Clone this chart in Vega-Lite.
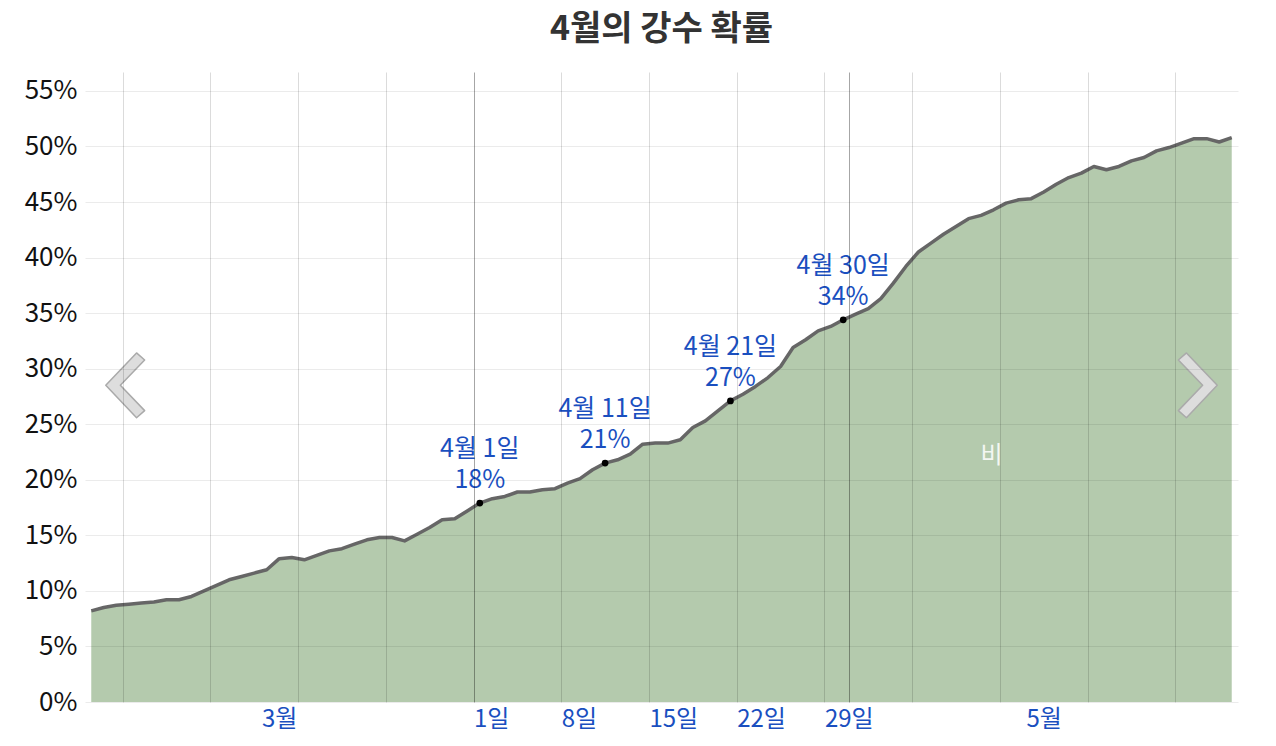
{
  "$schema": "https://vega.github.io/schema/vega-lite/v6.json",
  "autosize": "none",
  "width": 1153,
  "height": 630,
  "padding": {"left": 85, "top": 72, "right": 38, "bottom": 44},
  "background": "white",
  "title": {
    "text": "4월의 강수 확률",
    "font": "Noto Sans CJK KR",
    "fontSize": 34,
    "fontWeight": "bold",
    "color": "#333333",
    "anchor": "middle",
    "frame": "group",
    "baseline": "alphabetic",
    "offset": -2
  },
  "config": {
    "view": {"stroke": null},
    "font": "Noto Sans CJK KR"
  },
  "datasets": {
    "rain": [
      {"date": "2024-03-01T12:00Z", "p": 8.2},
      {"date": "2024-03-02T12:00Z", "p": 8.5},
      {"date": "2024-03-03T12:00Z", "p": 8.7},
      {"date": "2024-03-04T12:00Z", "p": 8.8},
      {"date": "2024-03-05T12:00Z", "p": 8.9},
      {"date": "2024-03-06T12:00Z", "p": 9.0},
      {"date": "2024-03-07T12:00Z", "p": 9.2},
      {"date": "2024-03-08T12:00Z", "p": 9.2},
      {"date": "2024-03-09T12:00Z", "p": 9.5},
      {"date": "2024-03-10T12:00Z", "p": 10.0},
      {"date": "2024-03-11T12:00Z", "p": 10.5},
      {"date": "2024-03-12T12:00Z", "p": 11.0},
      {"date": "2024-03-13T12:00Z", "p": 11.3},
      {"date": "2024-03-14T12:00Z", "p": 11.6},
      {"date": "2024-03-15T12:00Z", "p": 11.9},
      {"date": "2024-03-16T12:00Z", "p": 12.9},
      {"date": "2024-03-17T12:00Z", "p": 13.0},
      {"date": "2024-03-18T12:00Z", "p": 12.8},
      {"date": "2024-03-19T12:00Z", "p": 13.2},
      {"date": "2024-03-20T12:00Z", "p": 13.6},
      {"date": "2024-03-21T12:00Z", "p": 13.8},
      {"date": "2024-03-22T12:00Z", "p": 14.2},
      {"date": "2024-03-23T12:00Z", "p": 14.6},
      {"date": "2024-03-24T12:00Z", "p": 14.8},
      {"date": "2024-03-25T12:00Z", "p": 14.8},
      {"date": "2024-03-26T12:00Z", "p": 14.5},
      {"date": "2024-03-27T12:00Z", "p": 15.1},
      {"date": "2024-03-28T12:00Z", "p": 15.7},
      {"date": "2024-03-29T12:00Z", "p": 16.4},
      {"date": "2024-03-30T12:00Z", "p": 16.5},
      {"date": "2024-03-31T12:00Z", "p": 17.2},
      {"date": "2024-04-01T12:00Z", "p": 17.9},
      {"date": "2024-04-02T12:00Z", "p": 18.3},
      {"date": "2024-04-03T12:00Z", "p": 18.5},
      {"date": "2024-04-04T12:00Z", "p": 18.9},
      {"date": "2024-04-05T12:00Z", "p": 18.9},
      {"date": "2024-04-06T12:00Z", "p": 19.1},
      {"date": "2024-04-07T12:00Z", "p": 19.2},
      {"date": "2024-04-08T12:00Z", "p": 19.7},
      {"date": "2024-04-09T12:00Z", "p": 20.1},
      {"date": "2024-04-10T12:00Z", "p": 20.9},
      {"date": "2024-04-11T12:00Z", "p": 21.5},
      {"date": "2024-04-12T12:00Z", "p": 21.8},
      {"date": "2024-04-13T12:00Z", "p": 22.3},
      {"date": "2024-04-14T12:00Z", "p": 23.2},
      {"date": "2024-04-15T12:00Z", "p": 23.3},
      {"date": "2024-04-16T12:00Z", "p": 23.3},
      {"date": "2024-04-17T12:00Z", "p": 23.6},
      {"date": "2024-04-18T12:00Z", "p": 24.7},
      {"date": "2024-04-19T12:00Z", "p": 25.3},
      {"date": "2024-04-20T12:00Z", "p": 26.2},
      {"date": "2024-04-21T12:00Z", "p": 27.1},
      {"date": "2024-04-22T12:00Z", "p": 27.7},
      {"date": "2024-04-23T12:00Z", "p": 28.4},
      {"date": "2024-04-24T12:00Z", "p": 29.2},
      {"date": "2024-04-25T12:00Z", "p": 30.2},
      {"date": "2024-04-26T12:00Z", "p": 31.9},
      {"date": "2024-04-27T12:00Z", "p": 32.6},
      {"date": "2024-04-28T12:00Z", "p": 33.4},
      {"date": "2024-04-29T12:00Z", "p": 33.8},
      {"date": "2024-04-30T12:00Z", "p": 34.4},
      {"date": "2024-05-01T12:00Z", "p": 34.9},
      {"date": "2024-05-02T12:00Z", "p": 35.4},
      {"date": "2024-05-03T12:00Z", "p": 36.3},
      {"date": "2024-05-04T12:00Z", "p": 37.7},
      {"date": "2024-05-05T12:00Z", "p": 39.2},
      {"date": "2024-05-06T12:00Z", "p": 40.5},
      {"date": "2024-05-07T12:00Z", "p": 41.3},
      {"date": "2024-05-08T12:00Z", "p": 42.1},
      {"date": "2024-05-09T12:00Z", "p": 42.8},
      {"date": "2024-05-10T12:00Z", "p": 43.5},
      {"date": "2024-05-11T12:00Z", "p": 43.8},
      {"date": "2024-05-12T12:00Z", "p": 44.3},
      {"date": "2024-05-13T12:00Z", "p": 44.9},
      {"date": "2024-05-14T12:00Z", "p": 45.2},
      {"date": "2024-05-15T12:00Z", "p": 45.3},
      {"date": "2024-05-16T12:00Z", "p": 45.9},
      {"date": "2024-05-17T12:00Z", "p": 46.6},
      {"date": "2024-05-18T12:00Z", "p": 47.2},
      {"date": "2024-05-19T12:00Z", "p": 47.6},
      {"date": "2024-05-20T12:00Z", "p": 48.2},
      {"date": "2024-05-21T12:00Z", "p": 47.9},
      {"date": "2024-05-22T12:00Z", "p": 48.2},
      {"date": "2024-05-23T12:00Z", "p": 48.7},
      {"date": "2024-05-24T12:00Z", "p": 49.0},
      {"date": "2024-05-25T12:00Z", "p": 49.6},
      {"date": "2024-05-26T12:00Z", "p": 49.9},
      {"date": "2024-05-27T12:00Z", "p": 50.3},
      {"date": "2024-05-28T12:00Z", "p": 50.7},
      {"date": "2024-05-29T12:00Z", "p": 50.7},
      {"date": "2024-05-30T12:00Z", "p": 50.4},
      {"date": "2024-05-31T12:00Z", "p": 50.8}
    ],
    "notes": [
      {"date": "2024-04-01T12:00Z", "p": 17.9, "label": "4월 1일\n18%"},
      {"date": "2024-04-11T12:00Z", "p": 21.5, "label": "4월 11일\n21%"},
      {"date": "2024-04-21T12:00Z", "p": 27.1, "label": "4월 21일\n27%"},
      {"date": "2024-04-30T12:00Z", "p": 34.4, "label": "4월 30일\n34%"}
    ],
    "tag": [
      {"date": "2024-05-12T08:00Z", "p": 22.1, "label": "비"}
    ],
    "arrows": [
      {"date": "2024-03-04T05:00Z", "p": 28.5, "side": "left"},
      {"date": "2024-05-28T19:00Z", "p": 28.5, "side": "right"}
    ]
  },
  "encoding": {
    "x": {
      "field": "date",
      "type": "temporal",
      "scale": {
        "type": "utc",
        "domain": [
          {"year": 2024, "month": 3, "date": 1, "utc": true},
          {"year": 2024, "month": 6, "date": 1, "utc": true}
        ]
      },
      "axis": {
        "title": null,
        "zindex": 1,
        "domain": false,
        "ticks": false,
        "values": [
          {"year": 2024, "month": 3, "date": 4, "utc": true},
          {"year": 2024, "month": 3, "date": 11, "utc": true},
          {"year": 2024, "month": 3, "date": 16, "hours": 12, "utc": true},
          {"year": 2024, "month": 3, "date": 18, "utc": true},
          {"year": 2024, "month": 3, "date": 25, "utc": true},
          {"year": 2024, "month": 4, "date": 1, "utc": true},
          {"year": 2024, "month": 4, "date": 8, "utc": true},
          {"year": 2024, "month": 4, "date": 15, "utc": true},
          {"year": 2024, "month": 4, "date": 22, "utc": true},
          {"year": 2024, "month": 4, "date": 29, "utc": true},
          {"year": 2024, "month": 5, "date": 1, "utc": true},
          {"year": 2024, "month": 5, "date": 6, "utc": true},
          {"year": 2024, "month": 5, "date": 13, "utc": true},
          {"year": 2024, "month": 5, "date": 16, "hours": 12, "utc": true},
          {"year": 2024, "month": 5, "date": 20, "utc": true},
          {"year": 2024, "month": 5, "date": 27, "utc": true}
        ],
        "labelExpr": "utchours(datum.value) == 12 ? (utcmonth(datum.value) + 1) + '월' : (utcmonth(datum.value) == 3 ? utcdate(datum.value) + '일' : '')",
        "labelAlign": {"condition": {"test": "utchours(datum.value) == 12", "value": "center"}, "value": "left"},
        "labelFont": "Noto Sans CJK KR",
        "labelFontSize": 24,
        "labelColor": "#1a4fbf",
        "labelPadding": 5,
        "labelOverlap": false,
        "labelFlush": false,
        "labelBound": false,
        "grid": true,
        "gridColor": {"condition": {"test": "utcdate(datum.value) == 1", "value": "rgba(0,0,0,0.35)"}, "value": "rgba(0,0,0,0.14)"},
        "gridOpacity": {"condition": {"test": "utchours(datum.value) == 12", "value": 0}, "value": 1}
      }
    },
    "y": {
      "field": "p",
      "type": "quantitative",
      "scale": {"domain": [0, 56.7], "nice": false, "zero": true},
      "axis": {
        "title": null,
        "zindex": 1,
        "domain": false,
        "ticks": false,
        "values": [0, 5, 10, 15, 20, 25, 30, 35, 40, 45, 50, 55],
        "labelExpr": "datum.value + '%'",
        "labelFont": "Noto Sans CJK KR",
        "labelFontSize": 26,
        "labelColor": "#111111",
        "labelPadding": 8,
        "grid": true,
        "gridColor": "#000000",
        "gridOpacity": 0.08
      }
    }
  },
  "layer": [
    {
      "data": {"name": "rain"},
      "mark": {
        "type": "area",
        "color": "#b4caad",
        "opacity": 1,
        "fillOpacity": 1,
        "line": {"color": "#666666", "strokeWidth": 3.5, "strokeJoin": "round"}
      }
    },
    {
      "data": {"name": "notes"},
      "mark": {"type": "circle", "size": 45, "color": "#000000", "opacity": 1}
    },
    {
      "data": {"name": "notes"},
      "mark": {
        "type": "text",
        "align": "center",
        "baseline": "bottom",
        "dy": -41,
        "lineBreak": "\n",
        "lineHeight": 31,
        "font": "Noto Sans CJK KR",
        "fontSize": 25,
        "color": "#1a4fbf"
      },
      "encoding": {"text": {"field": "label"}}
    },
    {
      "data": {"name": "tag"},
      "mark": {
        "type": "text",
        "align": "center",
        "baseline": "middle",
        "font": "Noto Sans CJK KR",
        "fontSize": 24,
        "color": "#ffffff",
        "opacity": 0.85
      },
      "encoding": {"text": {"field": "label"}}
    },
    {
      "data": {"name": "arrows"},
      "mark": {
        "type": "point",
        "filled": true,
        "size": 4200,
        "fill": "#dddddd",
        "fillOpacity": 1,
        "opacity": 1,
        "stroke": "#aaaaaa",
        "strokeWidth": 1.5,
        "strokeJoin": "round"
      },
      "encoding": {
        "shape": {
          "field": "side",
          "type": "nominal",
          "legend": null,
          "scale": {
            "domain": ["left", "right"],
            "range": [
              "M0.35,-1L-0.6,0L0.35,1L0.6,0.78L-0.15,0L0.6,-0.78Z",
              "M-0.35,-1L0.6,0L-0.35,1L-0.6,0.78L0.15,0L-0.6,-0.78Z"
            ]
          }
        }
      }
    }
  ]
}
